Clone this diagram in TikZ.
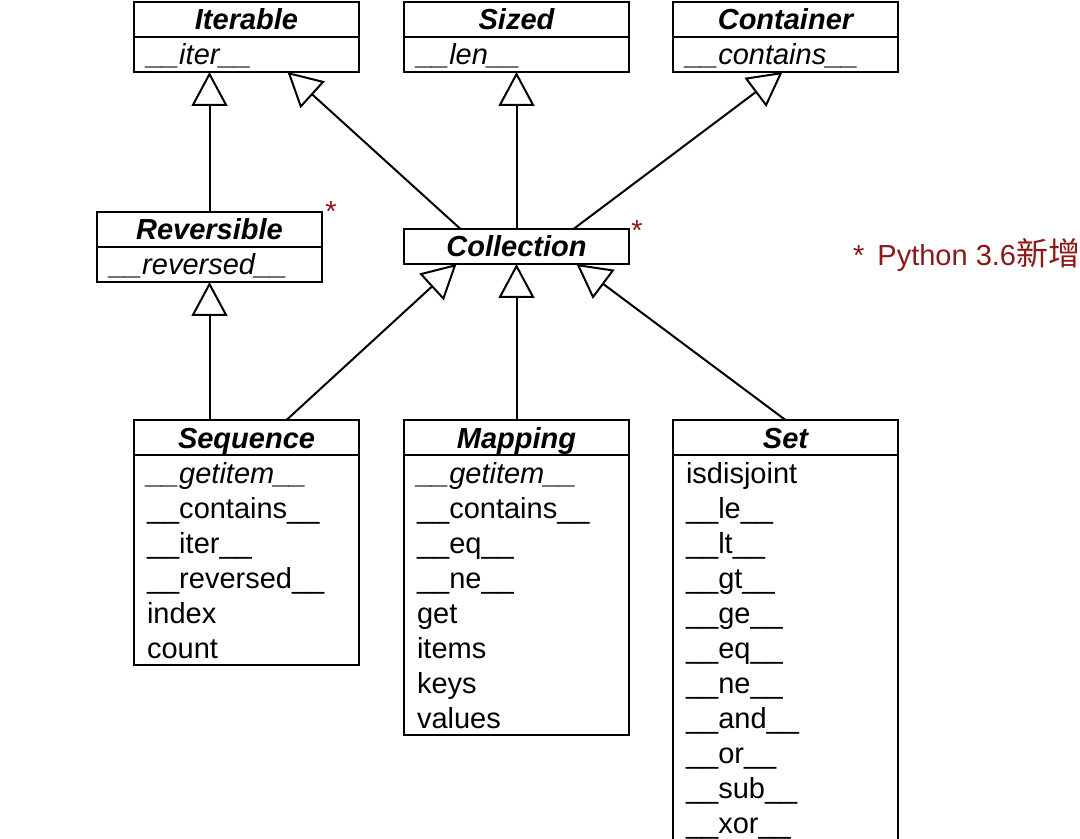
\documentclass[tikz,border=0pt]{standalone}
\usepackage{fontspec}
\setmainfont{Liberation Sans}
\newfontfamily\cjk{Noto Sans CJK SC}
\usetikzlibrary{positioning,arrows.meta}
\definecolor{notered}{RGB}{140,24,24}
\newcommand{\rowstrut}{\rule[-3.5pt]{0pt}{17.5pt}}
\newcommand{\dund}[1]{\_\_#1\_\_}

\begin{document}
\begin{tikzpicture}[x=0.5pt,y=-0.5pt,
    every node/.style={font=\fontsize{14.5}{17.5}\selectfont},
    classname/.style={draw, line width=1pt, minimum width=112.5pt, minimum height=17.5pt,
      inner sep=0pt, outer sep=0pt, font=\fontsize{14.5}{17.5}\selectfont\bfseries\itshape},
    members/.style={draw, line width=1pt, text width=99.5pt, inner xsep=6.5pt,
      inner ysep=0pt, outer sep=0pt, align=left},
    isa/.style={line width=1pt, -{Triangle[open,length=17pt,width=18pt]}},
    newtag/.style={text=notered}]
    \clip (0,0) rectangle (1080,839);
    % top row
    \node[classname, anchor=north west] (itert) at (134,2) {\rowstrut Iterable};
    \node[members, below=0pt of itert] (iterb) {\rowstrut\textit{\dund{iter}}};
    \node[classname, anchor=north west] (sizedt) at (404,2) {\rowstrut Sized};
    \node[members, below=0pt of sizedt] (sizedb) {\rowstrut\textit{\dund{len}}};
    \node[classname, anchor=north west] (contt) at (673,2) {\rowstrut Container};
    \node[members, below=0pt of contt] (contb) {\rowstrut\textit{\dund{contains}}};
    % middle row
    \node[classname, anchor=north west] (revt) at (97,212) {\rowstrut Reversible};
    \node[members, below=0pt of revt] (revb) {\rowstrut\textit{\dund{reversed}}};
    \node[classname, anchor=north west] (coll) at (404,229) {\rowstrut Collection};
    % bottom row
    \node[classname, anchor=north west] (seqt) at (134,420) {\rowstrut Sequence};
    \node[members, below=0pt of seqt] (seqb) {\rowstrut\textit{\dund{getitem}}\\
      \rowstrut\dund{contains}\\ \rowstrut\dund{iter}\\ \rowstrut\dund{reversed}\\
      \rowstrut index\\ \rowstrut count};
    \node[classname, anchor=north west] (mapt) at (404,420) {\rowstrut Mapping};
    \node[members, below=0pt of mapt] (mapb) {\rowstrut\textit{\dund{getitem}}\\
      \rowstrut\dund{contains}\\ \rowstrut\dund{eq}\\ \rowstrut\dund{ne}\\
      \rowstrut get\\ \rowstrut items\\ \rowstrut keys\\ \rowstrut values};
    \node[classname, anchor=north west] (sett) at (673,420) {\rowstrut Set};
    \node[members, below=0pt of sett] (setb) {\rowstrut isdisjoint\\
      \rowstrut\dund{le}\\ \rowstrut\dund{lt}\\ \rowstrut\dund{gt}\\ \rowstrut\dund{ge}\\
      \rowstrut\dund{eq}\\ \rowstrut\dund{ne}\\ \rowstrut\dund{and}\\ \rowstrut\dund{or}\\
      \rowstrut\dund{sub}\\ \rowstrut\dund{xor}};
    % inheritance
    \draw[isa] (revt.north) -- (revt.north |- iterb.south);
    \draw[isa] ([xshift=-28pt]coll.north) -- ([xshift=20.5pt]iterb.south);
    \draw[isa] (coll.north) -- (sizedb.south);
    \draw[isa] ([xshift=28.5pt]coll.north) -- ([xshift=-1.5pt]contb.south);
    \draw[isa] (revb.south |- seqt.north) -- (revb.south);
    \draw[isa] ([xshift=20pt]seqt.north) -- ([xshift=-30pt]coll.south);
    \draw[isa] (mapt.north) -- (coll.south);
    \draw[isa] (sett.north) -- ([xshift=30pt]coll.south);
    % new in 3.6
    \node[newtag] (revstar) at (331,212) {*};
    \node[newtag] (collstar) at (637,231) {*};
    \node[newtag, anchor=base west] (note) at (846,266)
      {*\hspace{2.5pt} Python 3.6{\cjk\fontsize{16}{17.5}\selectfont 新增}};
\end{tikzpicture}
\end{document}
